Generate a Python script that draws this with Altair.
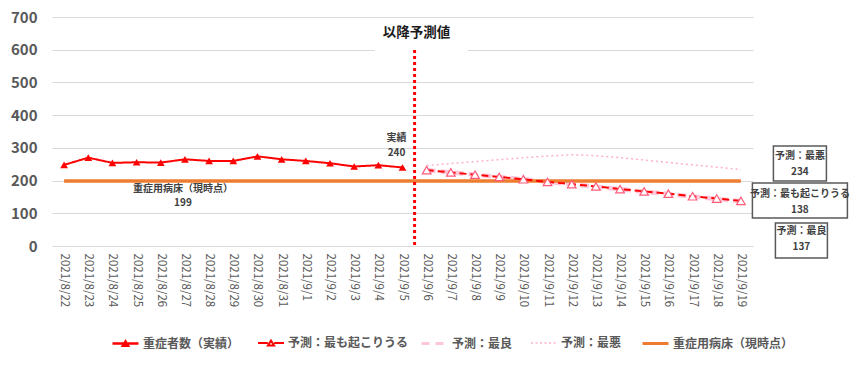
import altair as alt
import pandas as pd

# ---------------- data ----------------
dates_actual = ["2021/8/22", "2021/8/23", "2021/8/24", "2021/8/25", "2021/8/26", "2021/8/27",
                "2021/8/28", "2021/8/29", "2021/8/30", "2021/8/31", "2021/9/1", "2021/9/2",
                "2021/9/3", "2021/9/4", "2021/9/5"]
actual_values = [248, 270, 254, 256, 255, 265, 260, 260, 274, 265, 260, 253, 243, 247, 240]

dates_forecast = ["2021/9/6", "2021/9/7", "2021/9/8", "2021/9/9", "2021/9/10", "2021/9/11",
                  "2021/9/12", "2021/9/13", "2021/9/14", "2021/9/15", "2021/9/16", "2021/9/17",
                  "2021/9/18", "2021/9/19"]
most_likely_values = [232, 225, 218, 211, 204, 196, 189, 182, 174, 167, 160, 152, 145, 138]
best_values = [232, 225, 218, 211, 204, 196, 189, 181, 174, 166, 159, 151, 144, 137]
worst_values = [246, 252, 258, 264, 270, 275, 279, 276, 270, 263, 255, 248, 241, 234]
bed_capacity = 199

series_names = ["重症者数（実績）", "予測：最も起こりうる", "予測：最良", "予測：最悪", "重症用病床（現時点）"]
divider_label = "以降予測値"
actual_note = ["実績", "240"]
bed_note = ["重症用病床（現時点）", "199"]
box_titles = ["予測：最悪", "予測：最も起こりうる", "予測：最良"]
box_values = [234, 138, 137]

all_dates = dates_actual + dates_forecast

# ---------------- styling ----------------
FONT = "Noto Sans CJK JP"
W, H = 701, 229
RED = "#FF0000"
PINK_BEST = "#FFC6DA"
PINK_WORST = "#FFB0CC"
ORANGE = "#ED7D31"
GRAY = "#595959"


def xenc(bp=0.5):
    return alt.X(
        "date:O", bandPosition=bp, title=None,
        scale=alt.Scale(type="band", domain=all_dates, paddingInner=0, paddingOuter=0),
        axis=alt.Axis(labelAngle=90, labelFont=FONT, labelFontSize=11.5, labelColor=GRAY,
                      ticks=False, domain=False, grid=False, labelPadding=7),
    )


def yenc(field="value"):
    return alt.Y(
        f"{field}:Q", title=None,
        scale=alt.Scale(domain=[0, 700], nice=False),
        axis=alt.Axis(values=list(range(0, 701, 100)), labelFont=FONT, labelFontSize=15,
                      labelFontWeight="bold", labelColor=GRAY, labelPadding=15,
                      ticks=False, domain=False, gridColor="#D9D9D9", gridWidth=1),
    )


def series_df(dates, values, name):
    return pd.DataFrame({"date": dates, "value": values, "series": name})


def legend(x, symbol_type, dash, width, fill):
    return alt.Legend(
        title=None, orient="none", legendX=x, legendY=312, padding=0,
        symbolType=symbol_type, symbolSize=676, symbolDash=dash, symbolStrokeWidth=width,
        symbolFillColor=fill, symbolOffset=0, labelOffset=3, labelLimit=200,
        labelFont=FONT, labelFontSize=12, labelFontWeight="bold", labelColor=GRAY,
    )


def line_layer(df, name, color, dash, width, leg):
    return alt.Chart(df).mark_line().encode(
        x=xenc(), y=yenc(),
        color=alt.Color("series:N", scale=alt.Scale(domain=[name], range=[color]), legend=leg),
        strokeDash=alt.value(dash),
        strokeWidth=alt.value(width),
    )


df_actual = series_df(dates_actual, actual_values, series_names[0])
df_ml = series_df(dates_forecast, most_likely_values, series_names[1])
df_best = series_df(dates_forecast, best_values, series_names[2])
df_worst = series_df(dates_forecast, worst_values, series_names[3])
df_bed = series_df(all_dates, [bed_capacity] * len(all_dates), series_names[4])

TRI_FILLED = "M-1,0L1,0M-0.2,0.18L0,-0.16L0.2,0.18Z"
TRI_OPEN = "M-1,0L-0.24,0M0.24,0L1,0M-0.24,0.2L0,-0.18L0.24,0.2Z"

worst_line = line_layer(df_worst, series_names[3], PINK_WORST, [2, 3], 1.5,
                        legend(478, "stroke", [2, 2.5], 1.5, "transparent"))
best_line = line_layer(df_best, series_names[2], PINK_BEST, [9, 5], 4.5,
                       legend(368, "stroke", [8, 6], 3, "transparent"))
bed_line = line_layer(df_bed, series_names[4], ORANGE, [1, 0], 3.5,
                      legend(589, "stroke", [1, 0], 3, "transparent"))
ml_line = line_layer(df_ml, series_names[1], RED, [7, 4], 2,
                     legend(205, TRI_OPEN, [1, 0], 2, "white"))
actual_line = line_layer(df_actual, series_names[0], RED, [1, 0], 2,
                         legend(59, TRI_FILLED, [1, 0], 2.5, RED))

actual_pts = alt.Chart(df_actual).mark_point(
    shape="triangle-up", filled=True, color=RED, size=60, opacity=1
).encode(x=xenc(), y=yenc())
ml_pts = alt.Chart(df_ml).mark_point(
    shape="triangle-up", filled=True, fill="white", stroke="#FF5C7A", strokeWidth=1.2,
    size=75, opacity=1
).encode(x=xenc(), y=yenc())

# white gap in the 600 grid line behind the divider caption
gap_df = pd.DataFrame({"date": [dates_actual[-2]], "date2": [dates_forecast[2]], "value": [600]})
gap = alt.Chart(gap_df).mark_rule(color="white", strokeWidth=3).encode(
    x=xenc(0.35), x2=alt.X2("date2:O", bandPosition=0.2), y=yenc()
)

divider_df = pd.DataFrame({"date": [dates_actual[-1]], "label": [divider_label]})
divider = alt.Chart(divider_df).mark_rule(color=RED, strokeWidth=3, strokeDash=[3, 3]).encode(
    x=xenc(1.0), y=alt.value(33), y2=alt.value(H)
)
divider_text = alt.Chart(divider_df).mark_text(
    font=FONT, fontSize=13.5, fontWeight="bold", color="#1a1a1a", dx=2
).encode(x=xenc(1.0), y=alt.value(16), text="label:N")

note_df = pd.DataFrame({"date": [dates_actual[-1]], "value": [actual_values[-1]],
                        "label": ["\n".join(actual_note)]})
note = alt.Chart(note_df).mark_text(
    font=FONT, fontSize=10, fontWeight="bold", color="#404040", lineBreak="\n",
    lineHeight=15, dx=-6, dy=-29.5
).encode(x=xenc(), y=yenc(), text="label:N")

bed_df = pd.DataFrame({"date": [dates_actual[5]], "value": [bed_capacity],
                       "label": ["\n".join(bed_note)]})
bed_text = alt.Chart(bed_df).mark_text(
    font=FONT, fontSize=10, fontWeight="bold", color="#404040", lineBreak="\n",
    lineHeight=14, dx=-2, dy=8
).encode(x=xenc(), y=yenc(), text="label:N")

box_offsets = [(59, -6), (59, -0.4), (60.5, 39.3)]
text_dy = [-13, -7.1, 29.9]
box_dims = [(53, 35), (95, 35), (52, 35)]
box_layers = []
for i in range(3):
    bdf = pd.DataFrame({"date": [dates_forecast[-1]], "value": [box_values[i]],
                        "label": [f"{box_titles[i]}\n{box_values[i]}"]})
    bw, bh = box_dims[i]
    r = bh / bw
    path = f"M-1,-{r:.3f}L1,-{r:.3f}L1,{r:.3f}L-1,{r:.3f}Z"
    dx, dy = box_offsets[i]
    box = alt.Chart(bdf).mark_point(
        shape=path, size=bw * bw, filled=True, fill="white", stroke=GRAY, strokeWidth=1.5,
        opacity=1, xOffset=dx, yOffset=dy
    ).encode(x=xenc(), y=yenc())
    txt = alt.Chart(bdf).mark_text(
        font=FONT, fontSize=10, fontWeight="bold", color="#404040", lineBreak="\n",
        lineHeight=16, dx=dx, dy=text_dy[i]
    ).encode(x=xenc(), y=yenc(), text="label:N")
    box_layers += [box, txt]

chart = alt.layer(
    gap, worst_line, best_line, bed_line, ml_line, actual_line, actual_pts, ml_pts,
    divider, divider_text, note, bed_text, *box_layers
).resolve_scale(color="independent").resolve_legend(color="independent").properties(
    width=W, height=H,
    autosize=alt.AutoSizeParams(type="none"),
    padding={"left": 44, "top": 9, "right": 97, "bottom": 105},
).configure_view(stroke=None)

chart.save("out.html", embed_options={"renderer": "svg", "actions": False})
